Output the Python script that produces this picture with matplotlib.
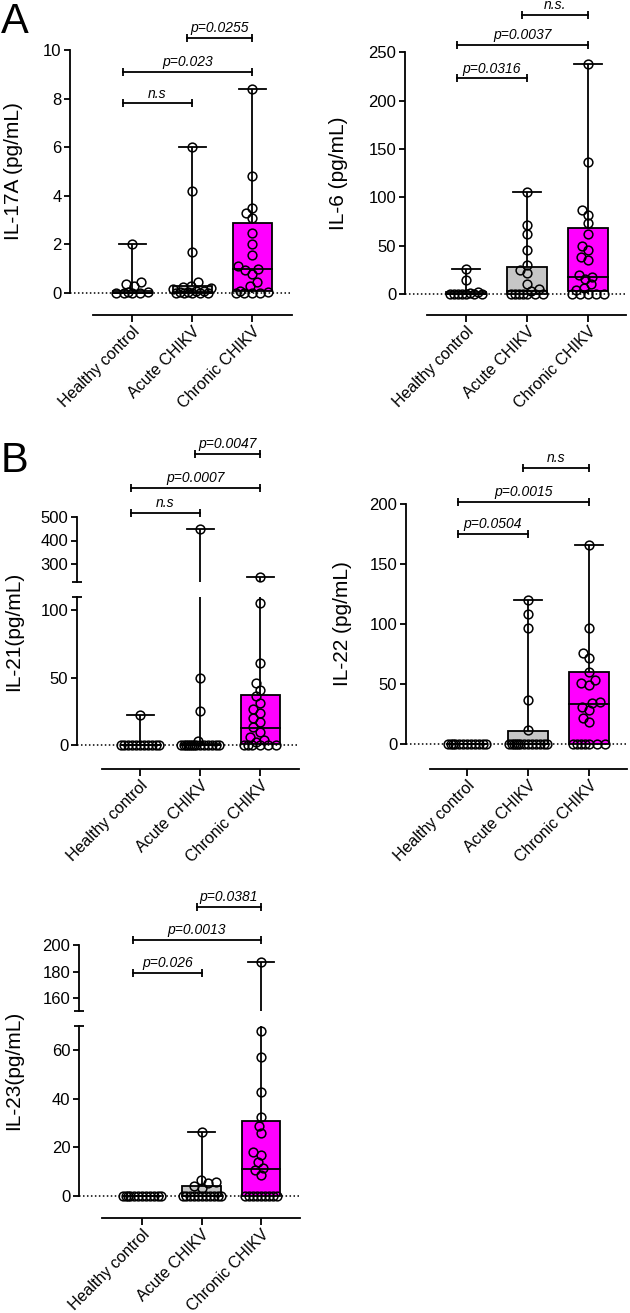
import numpy as np
import matplotlib
matplotlib.use('Agg')
import matplotlib.pyplot as plt
from matplotlib.patches import Rectangle

plt.rcParams['font.family'] = ['Liberation Sans', 'DejaVu Sans']

# ---------------- data ----------------
groups = ['Healthy control', 'Acute CHIKV', 'Chronic CHIKV']
box_colors = ['white', '#C6C6C6', '#FF00FF']

il17a_healthy = [2.0, 0.45, 0.35, 0.3, 0.05, 0.03, 0.02, 0.0, 0.0, 0.0]
il17a_acute = [6.0, 4.2, 1.7, 0.45, 0.3, 0.25, 0.2, 0.15, 0.1, 0.08, 0.05, 0.03, 0.02, 0.0, 0.0, 0.0, 0.0]
il17a_chronic = [8.4, 4.8, 3.5, 3.3, 3.1, 2.45, 2.0, 1.55, 1.1, 1.0, 0.95, 0.8, 0.45, 0.3, 0.1, 0.05, 0.0, 0.0, 0.0, 0.0]
il17a_q1 = [0.0, 0.0, 0.1]
il17a_med = [0.02, 0.05, 1.0]
il17a_q3 = [0.1, 0.3, 2.9]
il17a_brackets = [(0, 1, 7.8, 'n.s'), (0, 2, 9.1, 'p=0.023'), (1, 2, 10.5, 'p=0.0255')]

il6_healthy = [26, 14, 2, 1, 0, 0, 0, 0, 0, 0, 0]
il6_acute = [105, 71, 62, 45, 30, 25, 22, 10, 5, 3, 0, 0, 0, 0, 0, 0, 0]
il6_chronic = [238, 137, 87, 82, 73, 62, 50, 45, 38, 35, 20, 18, 15, 10, 6, 4, 0, 0, 0, 0, 0]
il6_q1 = [0, 0, 3]
il6_med = [0, 3, 18]
il6_q3 = [2, 28, 68]
il6_brackets = [(0, 1, 223, 'p=0.0316'), (0, 2, 258, 'p=0.0037'), (1, 2, 289, 'n.s.')]

il21_healthy = [22, 0, 0, 0, 0, 0, 0, 0, 0, 0, 0, 0]
il21_acute = [450, 50, 25, 3, 0, 0, 0, 0, 0, 0, 0, 0, 0, 0, 0, 0, 0, 0]
il21_chronic = [245, 105, 61, 46, 41, 36, 31, 27, 24, 20, 17, 13, 10, 6, 4, 2, 0, 0, 0, 0, 0, 0]
il21_q1 = [0, 0, 1]
il21_med = [0, 0, 12.6]
il21_q3 = [0, 1, 37]
il21_brackets = [(0, 1, 517, 'n.s'), (0, 2, 623, 'p=0.0007'), (1, 2, 768, 'p=0.0047')]

il22_healthy = [0, 0, 0, 0, 0, 0, 0, 0, 0, 0, 0, 0]
il22_acute = [120, 108, 97, 37, 12, 0, 0, 0, 0, 0, 0, 0, 0, 0, 0, 0, 0, 0]
il22_chronic = [166, 97, 76, 72, 60, 53, 51, 49, 35, 34, 31, 28, 22, 18, 0, 0, 0, 0, 0, 0, 0]
il22_q1 = [0, 0, 0]
il22_med = [0, 0, 33]
il22_q3 = [0, 11, 60]
il22_brackets = [(0, 1, 175, 'p=0.0504'), (0, 2, 202, 'p=0.0015'), (1, 2, 230, 'n.s')]

il23_healthy = [0, 0, 0, 0, 0, 0, 0, 0, 0, 0, 0, 0]
il23_acute = [26.5, 6.6, 5.8, 5.3, 4.1, 3.3, 0, 0, 0, 0, 0, 0, 0, 0, 0, 0, 0]
il23_chronic = [187, 68, 57, 43, 32.5, 29, 26, 18, 17, 14, 11.5, 10.5, 8.5, 0, 0, 0, 0, 0, 0, 0, 0, 0]
il23_q1 = [0, 0, 0]
il23_med = [0, 0, 11]
il23_q3 = [0, 4, 31]
il23_brackets = [(0, 1, 179, 'p=0.026'), (0, 2, 204, 'p=0.0013'), (1, 2, 229, 'p=0.0381')]

# ---------------- layout / style ----------------
W_FIG, H_FIG = 630, 1313
fig = plt.figure(figsize=(W_FIG / 100, H_FIG / 100), dpi=100)
LW = 1.3
MS = 6.3


def px_ax(l, r, t, b):
    ax = fig.add_axes([l / W_FIG, 1 - b / H_FIG, (r - l) / W_FIG, (b - t) / H_FIG])
    ax.patch.set_visible(False)
    for s in ('top', 'right'):
        ax.spines[s].set_visible(False)
    for s in ('left', 'bottom'):
        ax.spines[s].set_linewidth(LW)
    ax.tick_params(width=LW, length=4.2, labelsize=12, color='k', labelcolor='k', pad=2)
    return ax


def swarm(ypx, D=7.5, W=19.0):
    ypx = np.asarray(ypx, float)
    order = np.argsort(-ypx, kind='stable')  # lowest values first (largest pixel y)
    cands = np.linspace(-W, W, 39)
    placed = []
    offs = np.zeros(len(ypx))
    for idx in order:
        y = ypx[idx]
        if not placed:
            off = 0.0
        else:
            P = np.array(placed)
            d = np.array([np.min(np.hypot(P[:, 0] - c, P[:, 1] - y)) for c in cands])
            ok = d >= D
            if ok.any():
                off = cands[ok][np.argmin(np.abs(cands[ok]))]
            else:
                off = cands[np.argmax(d)]
        offs[idx] = off
        placed.append((off, y))
    return offs


def panel(g, ylabel, ylab_y, series, q1, med, q3, yticks, brackets, up_ticks=None):
    xd = lambda px: (px - g['g0']) / g['dx']
    broken = up_ticks is not None
    lo_top = g['lo_top'] if broken else g['top']
    ax = px_ax(g['sx'], g['xr'], lo_top, g['xb'])
    yv = lambda px: (g['y0'] - px) / g['ppu']
    ax.set_xlim(xd(g['sx']), xd(g['xr']))
    ax.set_ylim(yv(g['xb']), yv(lo_top))
    ax.spines['bottom'].set_bounds(xd(g['xl']), xd(g['xr']))
    ax.spines['left'].set_bounds(0, yv(lo_top) if broken else yticks[-1])
    ax.set_yticks(yticks)
    ax.set_xticks(range(len(groups)))
    ax.set_xticklabels(groups, rotation=45, ha='right', va='top', rotation_mode='anchor')
    ax.tick_params(axis='x', length=5, labelsize=11.5, pad=1.5)
    ax.axhline(0, color='k', lw=1.1, ls=(0, (1, 1.6)), zorder=1)
    axes = [ax]
    if broken:
        up = px_ax(g['sx'], g['xr'], g['top'], g['up_bot'])
        uv = lambda px: g['up_ref_val'] + (g['up_ref_px'] - px) / g['up_ppu']
        up.set_xlim(ax.get_xlim())
        up.set_ylim(uv(g['up_bot']), uv(g['top']))
        up.spines['bottom'].set_visible(False)
        up.spines['left'].set_bounds(uv(g['up_bot']), up_ticks[-1])
        up.set_xticks([])
        up.set_yticks(up_ticks)
        up.set_yticks([uv(g['up_bot'])], minor=True)
        up.tick_params(axis='y', which='minor', direction='inout', length=7, width=LW)
        ax.set_yticks([yv(lo_top)], minor=True)
        ax.tick_params(axis='y', which='minor', direction='inout', length=7, width=LW)
        axes.append(up)
        bax = up
        lo_max = yv(lo_top)
    else:
        bax = ax
        lo_max = np.inf

    def ypix(v):
        if v > lo_max:
            return g['up_ref_px'] - (v - g['up_ref_val']) * g['up_ppu']
        return g['y0'] - v * g['ppu']

    hw, cw = 0.325, 0.225
    for i, vals in enumerate(series):
        vals = np.asarray(vals, float)
        vmax, vmin = vals.max(), vals.min()
        for a in axes:
            a.add_patch(Rectangle((i - hw, q1[i]), 2 * hw, q3[i] - q1[i], facecolor=box_colors[i],
                                  edgecolor='k', lw=LW, zorder=2))
            a.plot([i - hw, i + hw], [med[i], med[i]], color='k', lw=LW, zorder=3)
            a.plot([i, i], [q3[i], vmax], color='k', lw=LW, zorder=3, solid_capstyle='butt')
            a.plot([i, i], [vmin, q1[i]], color='k', lw=LW, zorder=3, solid_capstyle='butt')
            a.plot([i - cw, i + cw], [vmax, vmax], color='k', lw=LW, zorder=3)
        offs = swarm([ypix(v) for v in vals]) / g['dx']
        for v, o in zip(vals, offs):
            a = axes[1] if (broken and v > lo_max) else ax
            a.plot(i + o, v, marker='o', ms=MS, mfc='none', mec='k', mew=1.1, zorder=5,
                   clip_on=False, ls='')

    for (i, j, y, lab) in brackets:
        x1 = -0.15 if i == 0 else i - 0.08
        x2 = j
        bax.plot([x1, x2], [y, y], color='k', lw=LW, clip_on=False, zorder=3)
        bax.plot([x1, x2], [y, y], ls='', marker='|', ms=6, mew=LW, color='k', clip_on=False)
        bax.annotate(lab, xy=((x1 + x2) / 2, y), xytext=(0, 4.2), textcoords='offset points',
                     ha='center', va='baseline', fontsize=10, style='italic', annotation_clip=False)

    fig.text(g['ylab_x'] / W_FIG, 1 - ylab_y / H_FIG, ylabel, rotation=90, ha='center', va='center',
             fontsize=15)


A1 = dict(sx=70, xr=292, xl=93, g0=132, dx=60, y0=293, ppu=24.3, top=2, xb=315, ylab_x=14)
A2 = dict(sx=405, xr=626, xl=427, g0=466, dx=61, y0=294, ppu=0.967, top=0, xb=315, ylab_x=339)
B1 = dict(sx=77, xr=299, xl=102, g0=140, dx=60, y0=745, ppu=1.35, lo_top=597, xb=769,
          up_ref_val=500, up_ref_px=517, up_ppu=0.235, up_bot=582, top=440, ylab_x=14)
B2 = dict(sx=406, xr=627, xl=430, g0=467, dx=61, y0=744, ppu=1.2, top=440, xb=769, ylab_x=342)
C1 = dict(sx=79, xr=300, xl=102, g0=142, dx=59.5, y0=1196, ppu=2.43, lo_top=1026, xb=1218,
          up_ref_val=200, up_ref_px=945, up_ppu=1.325, up_bot=1011, top=890, ylab_x=14)

panel(A1, 'IL-17A (pg/mL)', 171, [il17a_healthy, il17a_acute, il17a_chronic],
      il17a_q1, il17a_med, il17a_q3, [0, 2, 4, 6, 8, 10], il17a_brackets)
panel(A2, 'IL-6 (pg/mL)', 173, [il6_healthy, il6_acute, il6_chronic],
      il6_q1, il6_med, il6_q3, [0, 50, 100, 150, 200, 250], il6_brackets)
panel(B1, 'IL-21(pg/mL)', 631, [il21_healthy, il21_acute, il21_chronic],
      il21_q1, il21_med, il21_q3, [0, 50, 100], il21_brackets, up_ticks=[300, 400, 500])
panel(B2, 'IL-22 (pg/mL)', 624, [il22_healthy, il22_acute, il22_chronic],
      il22_q1, il22_med, il22_q3, [0, 50, 100, 150, 200], il22_brackets)
panel(C1, 'IL-23(pg/mL)', 1070, [il23_healthy, il23_acute, il23_chronic],
      il23_q1, il23_med, il23_q3, [0, 20, 40, 60], il23_brackets, up_ticks=[160, 180, 200])

fig.text(1 / W_FIG, 1 - 33 / H_FIG, 'A', fontsize=30, ha='left', va='baseline')
fig.text(1 / W_FIG, 1 - 472 / H_FIG, 'B', fontsize=30, ha='left', va='baseline')

fig.savefig('out.png', dpi=100)
